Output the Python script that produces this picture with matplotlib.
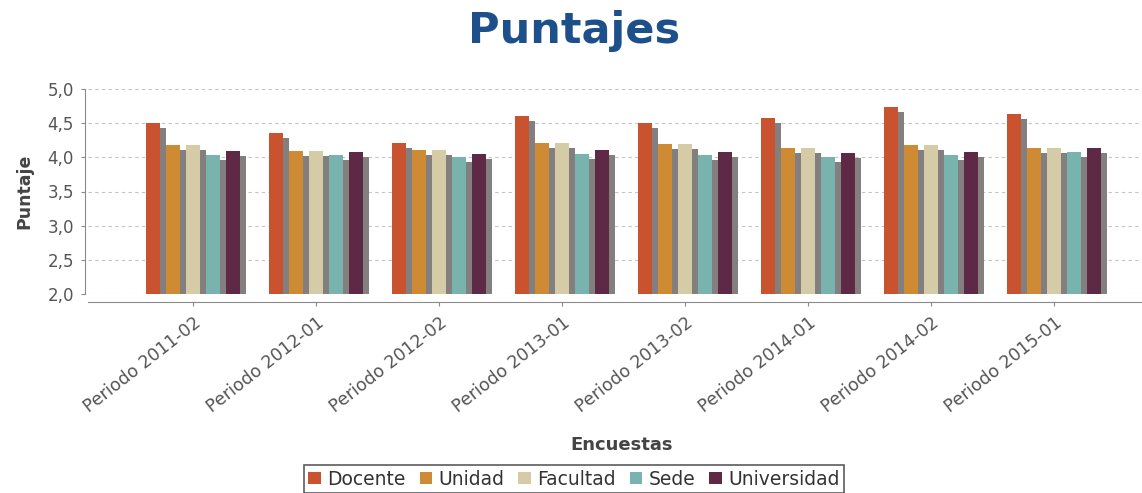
import matplotlib
matplotlib.use("Agg")
import matplotlib.pyplot as plt
from matplotlib.patches import Patch
from matplotlib.ticker import FuncFormatter

# datos
periodos = ["Periodo 2011-02", "Periodo 2012-01", "Periodo 2012-02", "Periodo 2013-01",
            "Periodo 2013-02", "Periodo 2014-01", "Periodo 2014-02", "Periodo 2015-01"]
series = ["Docente", "Unidad", "Facultad", "Sede", "Universidad"]
docente = [4.50, 4.35, 4.21, 4.60, 4.50, 4.57, 4.73, 4.64]
unidad = [4.18, 4.10, 4.11, 4.21, 4.20, 4.13, 4.18, 4.13]
facultad = [4.18, 4.10, 4.11, 4.21, 4.20, 4.13, 4.18, 4.13]
sede = [4.04, 4.03, 4.00, 4.05, 4.04, 4.01, 4.03, 4.08]
universidad = [4.10, 4.08, 4.05, 4.11, 4.08, 4.07, 4.08, 4.13]
valores = [docente, unidad, facultad, sede, universidad]
colores = ["#c9532f", "#cf8a34", "#d5cba6", "#78b4ad", "#5e2944"]

W, H = 1142, 493
fig = plt.figure(figsize=(W / 100, H / 100), dpi=100)
ax = fig.add_axes([88 / W, 1 - 294 / H, (W - 88) / W, (294 - 89) / H])

YMIN, YMAX = 2.0, 5.0
px_x = 1 / 123.0               # unidades de datos por pixel en x
px_y = (YMAX - YMIN) / 205.0   # unidades de datos por pixel en y
paso = 20 * px_x
ancho = 14.5 * px_x
sombra_dx, sombra_dy = 5.5 * px_x, 5 * px_y

for j, (nombre, vals, col) in enumerate(zip(series, valores, colores)):
    off = (j - 2) * paso
    xs = [i + off for i in range(len(periodos))]
    ax.bar([x + sombra_dx for x in xs], [v - sombra_dy - YMIN for v in vals], width=ancho,
           bottom=YMIN, color="#847f7f", zorder=2 + 2 * j, linewidth=0)
    ax.bar(xs, [v - YMIN for v in vals], width=ancho, bottom=YMIN, color=col,
           zorder=3 + 2 * j, linewidth=0, label=nombre)

ax.set_xlim((88 - 193) * px_x, (W - 193) * px_x)
ax.set_ylim(YMIN, YMAX)
ax.set_yticks([2.0, 2.5, 3.0, 3.5, 4.0, 4.5, 5.0])
ax.yaxis.set_major_formatter(FuncFormatter(lambda v, p: f"{v:.1f}".replace(".", ",")))
ax.grid(axis="y", color="#c4c4c4", linestyle=(0, (3, 3)), linewidth=0.8, zorder=0)
ax.set_axisbelow(True)

for s in ["top", "right"]:
    ax.spines[s].set_visible(False)
ax.spines["left"].set_color("#8a8a8a")
ax.spines["bottom"].set_color("#8a8a8a")
ax.spines["bottom"].set_position(("outward", 6))
ax.spines["left"].set_position(("outward", 2))
ax.tick_params(axis="y", colors="#8a8a8a", length=3, labelsize=12, labelcolor="#555555", pad=5)
ax.tick_params(axis="x", colors="#8a8a8a", length=3, labelsize=12.5, labelcolor="#555555", pad=5)

ax.set_xticks(range(len(periodos)))
ax.set_xticklabels(periodos, rotation=38, ha="right", va="top", rotation_mode="anchor")

ax.set_ylabel("Puntaje", fontsize=12.5, fontweight="bold", color="#444444", labelpad=10)
fig.text(622 / W, 1 - 445 / H, "Encuestas", fontsize=13, fontweight="bold",
         color="#444444", ha="center", va="center")
fig.text(574 / W, 1 - 31 / H, "Puntajes", fontsize=31, fontweight="bold",
         color="#1d4f8a", ha="center", va="center")

handles = [Patch(facecolor=c, edgecolor="none") for c in colores]
leg = fig.legend(handles, series, loc="upper center", bbox_to_anchor=(574 / W, 1 - 465 / H),
                 ncol=5, frameon=True, fancybox=False, edgecolor="#333333", fontsize=13.5,
                 handlelength=0.65, handleheight=0.65, handletextpad=0.35, columnspacing=0.75,
                 borderpad=0.25, borderaxespad=0)
leg.get_frame().set_linewidth(1.2)
for t in leg.get_texts():
    t.set_color("#333333")

fig.savefig("out.png", dpi=100)
